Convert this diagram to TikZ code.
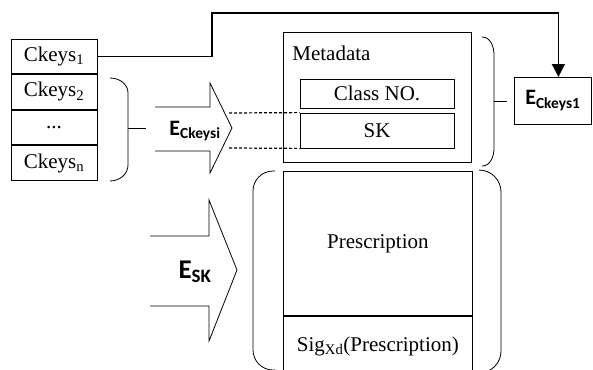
\documentclass[tikz,border=0pt]{standalone}
\usepackage{fontspec}
\setmainfont{Liberation Serif}
\newfontfamily\lblfont{Carlito}
\usetikzlibrary{positioning,arrows.meta}

\begin{document}
\begin{tikzpicture}[
x=1pt, y=-1pt,
cell/.style={rectangle, draw, line width=0.8pt, inner sep=0pt, align=center, font=\fontsize{21}{24}\selectfont},
keycell/.style={cell, minimum width=86pt, minimum height=34.75pt},
lbl/.style={inner sep=0pt, font=\lblfont\bfseries\fontsize{22}{25}\selectfont},
outline/.style={line width=0.8pt, line join=miter},
brace/.style={line width=0.8pt},
conn/.style={-{Triangle[width=13pt,length=13pt]}, line width=1.6pt},
dots/.style={line width=1.2pt, dash pattern=on 3pt off 2pt}
]
\path[use as bounding box, clip] (0,0) rectangle (593,369);

% key column
\node[keycell] (ckeysone) at (54,56.4) {Ckeys\textsubscript{1}};
\node[keycell, below=0pt of ckeysone] (ckeystwo) {Ckeys\textsubscript{2}};
\node[keycell, below=0pt of ckeystwo] (ckeysdots) {...};
\node[keycell, below=0pt of ckeysdots] (ckeysn) {Ckeys\textsubscript{n}};

% brace over Ckeys2..n
\draw[brace] (110,78) to[out=0,in=90] (128,93) -- (128,165) to[out=-90,in=0] (110,181);
\draw[brace] (128,128) -- (146,128);

% encryption arrow for metadata
\draw[outline] (155,107) -- (210,107) -- (210,83) -- (232,128) -- (210,173) -- (210,151) -- (155,151);
\node[lbl] (eckeysi) at (195,131) {E\textsubscript{Ckeysi}};

% metadata block
\node[cell, minimum width=188pt, minimum height=130pt, anchor=north west] (meta) at (283,32) {};
\node[cell, draw=none, anchor=base west] (metalbl) at (292,60) {Metadata};
\node[cell, minimum width=154pt, minimum height=29pt] (classno) at (377,93.5) {Class NO.};
\node[cell, minimum width=154pt, minimum height=35pt] (sk) at (377,130.5) {SK};

\coordinate (hdtop) at (229,113);
\coordinate (hdbot) at (229,148);
\draw[dots] (hdtop) -- (sk.north west);
\draw[dots] (hdbot) -- (sk.south west);

% brace over metadata
\draw[brace] (482,37) to[out=0,in=90] (494,55) -- (494,148) to[out=-90,in=0] (482,166);
\draw[brace] (494,101) -- (507,101);

\node[cell, minimum width=77pt, minimum height=47pt, anchor=north west] (eckone) at (514,77) {};
\node[lbl] (eckonelbl) at (eckone.center) {E\textsubscript{Ckeys1}};

\coordinate (bend) at (212,13);
\draw[conn] (ckeysone.east) -| (bend) -| ([xshift=5.5pt]eckone.north);

% prescription block
\node[cell, minimum width=189pt, minimum height=144pt, anchor=north west] (presc) at (283,171) {Prescription};
\node[cell, minimum width=189pt, minimum height=60pt, below=0pt of presc] (sig) {Sig\textsubscript{Xd}(Prescription)};

\draw[brace, rounded corners=20pt] (275,171) -- (253,171) -- (253,370) -- (275,370);
\draw[brace, rounded corners=22pt] (480,170) -- (501,170) -- (501,373) -- (480,373);

% encryption arrow for prescription
\draw[outline] (150,236) -- (209,236) -- (209,200) -- (237,270) -- (209,341) -- (209,306) -- (150,306);
\node[lbl, font=\lblfont\bfseries\fontsize{27}{30}\selectfont] (esk) at (195,272) {E\textsubscript{SK}};

\end{tikzpicture}
\end{document}
